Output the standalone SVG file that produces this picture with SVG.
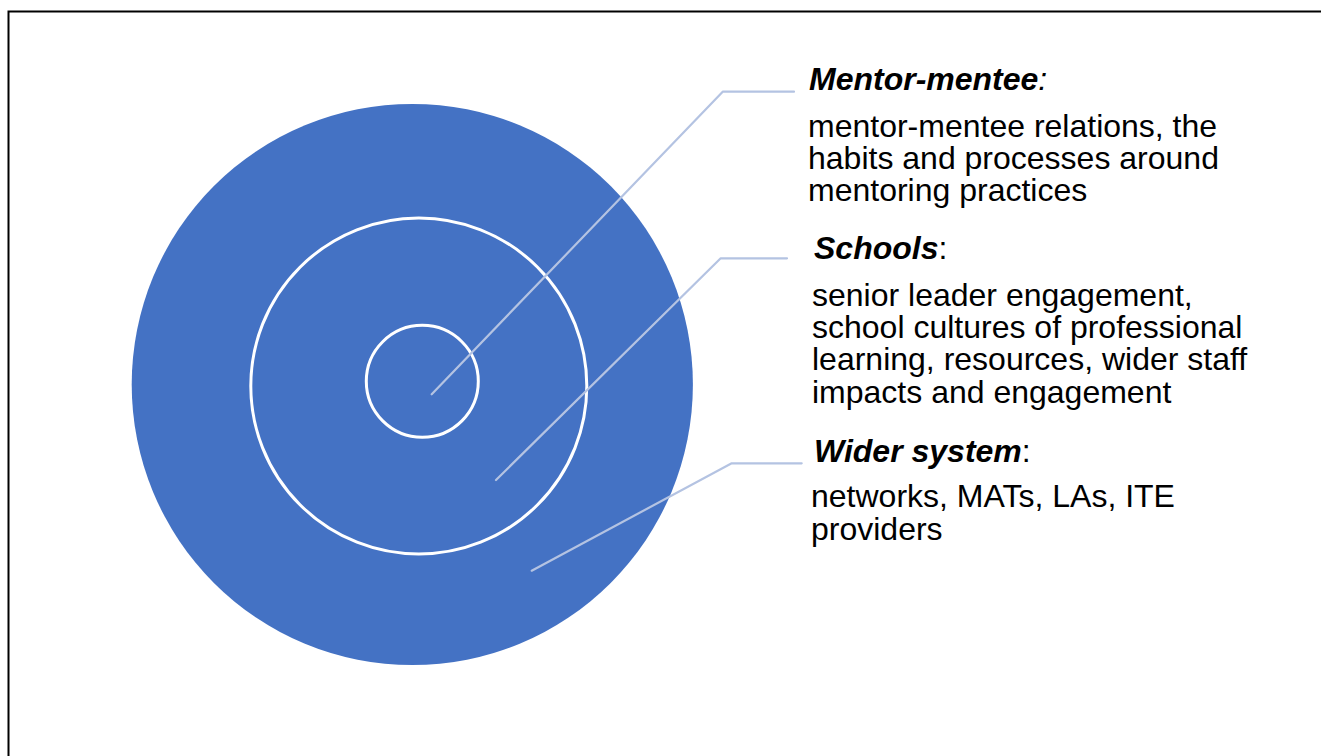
<svg xmlns="http://www.w3.org/2000/svg" width="1325" height="756" viewBox="0 0 1325 756">
  <style>
    .ring { fill: none; stroke: #FFFFFF; stroke-width: 3; }
    .leader { fill: none; stroke: #B4C3E2; stroke-width: 2.2; stroke-linecap: round; stroke-linejoin: round; }
    .label { font-family: "Liberation Sans", Arial, sans-serif; font-size: 32px; fill: #000000; }
    .head { font-weight: bold; font-style: italic; }
    .colon-i { font-style: italic; }
  </style>

  <!-- page frame -->
  <rect x="0" y="0" width="1325" height="756" fill="#FFFFFF"/>
  <path d="M8.5 760 V11.5 H1321" fill="none" stroke="#000000" stroke-width="2"/>

  <!-- concentric levels -->
  <g id="wider-system">
    <circle cx="412.3" cy="384.5" r="280.6" fill="#4472C4"/>
  </g>
  <g id="schools">
    <circle cx="418.8" cy="386" r="168" class="ring"/>
  </g>
  <g id="mentor-mentee">
    <circle cx="422.3" cy="381.3" r="56" class="ring"/>
  </g>

  <!-- leader lines from each ring to its description -->
  <g id="connectors">
    <path class="leader" d="M431.7 394.3 L722.7 91.7 H794"/>
    <path class="leader" d="M496 480 L720.7 258.3 H787"/>
    <path class="leader" d="M531.7 570.7 L731.7 463.3 H801.7"/>
  </g>

  <!-- descriptions -->
  <g id="label-mentor-mentee" class="label">
    <text x="809" y="90"><tspan class="head">Mentor-mentee</tspan><tspan class="colon-i">:</tspan></text>
    <text x="808" y="137">mentor-mentee relations, the</text>
    <text x="808" y="169">habits and processes around</text>
    <text x="808" y="201">mentoring practices</text>
  </g>
  <g id="label-schools" class="label">
    <text x="814" y="259"><tspan class="head">Schools</tspan>:</text>
    <text x="812" y="306">senior leader engagement,</text>
    <text x="812" y="338">school cultures of professional</text>
    <text x="812" y="370">learning, resources, wider staff</text>
    <text x="812" y="403">impacts and engagement</text>
  </g>
  <g id="label-wider-system" class="label">
    <text x="814" y="462"><tspan class="head">Wider system</tspan>:</text>
    <text x="811" y="507">networks, MATs, LAs, ITE</text>
    <text x="811" y="540">providers</text>
  </g>
</svg>
